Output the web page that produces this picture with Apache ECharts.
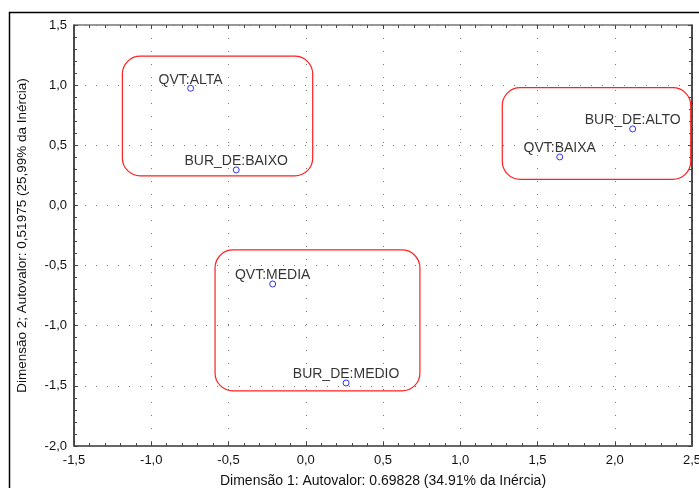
<!DOCTYPE html>
<html>
<head>
<meta charset="utf-8">
<script src="https://cdn.jsdelivr.net/npm/echarts@6/dist/echarts.min.js"></script>
<style>
  html, body { margin: 0; padding: 0; background: #fff; }
  #graph { width: 699px; height: 488px; }
</style>
</head>
<body>
<div id="graph"></div>
<script>
// pontos (categorias e coordenadas)
var pointNames = ['QVT:ALTA', 'BUR_DE:BAIXO', 'BUR_DE:ALTO', 'QVT:BAIXA', 'QVT:MEDIA', 'BUR_DE:MEDIO'];
var dim1 = [-0.745, -0.45, 2.116, 1.644, -0.214, 0.261];
var dim2 = [0.974, 0.295, 0.636, 0.403, -0.653, -1.476];

// grupos marcados (x1, y1, x2, y2)
var groupBoxes = [
    [-1.187, 1.242, 0.045, 0.245],
    [1.272, 0.979, 2.492, 0.217],
    [-0.587, -0.370, 0.739, -1.542]
];

var xTitle = 'Dimensão 1: Autovalor: 0.69828 (34.91% da Inércia)';
var yTitle = 'Dimensão 2; Autovalor: 0,51975 (25,99% da Inércia)';

var FONT = 'Liberation Sans, Arial, sans-serif';

function fmt(v) {
    return v.toFixed(1).replace('.', ',');
}

var scatterData = [];
for (var i = 0; i < pointNames.length; i++) {
    scatterData.push({ name: pointNames[i], value: [dim1[i], dim2[i]] });
}

function renderBox(params, api) {
    var p1 = api.coord([api.value(0), api.value(1)]);
    var p2 = api.coord([api.value(2), api.value(3)]);
    return {
        type: 'rect',
        shape: {
            x: Math.min(p1[0], p2[0]),
            y: Math.min(p1[1], p2[1]),
            width: Math.abs(p2[0] - p1[0]),
            height: Math.abs(p2[1] - p1[1]),
            r: 18
        },
        style: { fill: 'none', stroke: '#ff2020', lineWidth: 1.2 }
    };
}

var sideAxis = {
    axisLabel: { show: false },
    axisTick: { show: true, inside: true, length: 4, lineStyle: { color: '#444' } },
    minorTick: { show: true, splitNumber: 5, length: 3, lineStyle: { color: '#444' } },
    splitLine: { show: false }
};

var option = {
    animation: false,
    backgroundColor: '#fff',
    graphic: [{
        type: 'rect',
        shape: { x: 9.5, y: 12.5, width: 720, height: 520 },
        style: { fill: 'none', stroke: '#000', lineWidth: 1.5 },
        silent: true,
        z: 100
    }],
    grid: { left: 74, right: 7, top: 25, bottom: 42, outerBoundsMode: 'none', containLabel: false },
    xAxis: [{
        type: 'value',
        min: -1.5, max: 2.5, interval: 0.5,
        name: xTitle,
        nameLocation: 'middle',
        nameGap: 28,
        nameTextStyle: { fontFamily: FONT, fontSize: 14, color: '#111' },
        axisLine: { show: true, onZero: false, lineStyle: { color: '#666', width: 2 } },
        axisTick: { show: true, inside: true, length: 4, lineStyle: { color: '#444' } },
        minorTick: { show: true, splitNumber: 5, length: 3, lineStyle: { color: '#444' } },
        axisLabel: { formatter: fmt, fontFamily: FONT, fontSize: 13, color: '#111', margin: 8 },
        splitLine: { show: true, lineStyle: { color: '#777', type: [1, 12], width: 1 } }
    }, Object.assign({
        type: 'value', position: 'top',
        min: -1.5, max: 2.5, interval: 0.5,
        axisLine: { show: true, onZero: false, lineStyle: { color: '#777', width: 1.5 } }
    }, sideAxis)],
    yAxis: [{
        type: 'value',
        min: -2, max: 1.5, interval: 0.5,
        name: yTitle,
        nameLocation: 'middle',
        nameGap: 45,
        nameRotate: 90,
        nameTextStyle: { fontFamily: FONT, fontSize: 13.5, color: '#111' },
        axisLine: { show: true, onZero: false, lineStyle: { color: '#111', width: 1.5 } },
        axisTick: { show: true, inside: true, length: 4, lineStyle: { color: '#444' } },
        minorTick: { show: true, splitNumber: 5, length: 3, lineStyle: { color: '#444' } },
        axisLabel: { formatter: fmt, fontFamily: FONT, fontSize: 13, color: '#111', margin: 7 },
        splitLine: { show: true, lineStyle: { color: '#777', type: [1, 10], width: 1 } }
    }, Object.assign({
        type: 'value', position: 'right',
        min: -2, max: 1.5, interval: 0.5,
        axisLine: { show: true, onZero: false, lineStyle: { color: '#111', width: 1.5 } }
    }, sideAxis)],
    series: [{
        type: 'custom',
        renderItem: renderBox,
        encode: { x: [0, 2], y: [1, 3] },
        data: groupBoxes,
        z: 1,
        silent: true
    }, {
        type: 'scatter',
        symbol: 'circle',
        symbolSize: 6,
        itemStyle: { color: '#fff', borderColor: '#0000ff', borderWidth: 1 },
        label: {
            show: true,
            position: 'top',
            distance: -2,
            formatter: '{b}',
            fontFamily: FONT,
            fontSize: 14,
            color: '#000'
        },
        data: scatterData,
        z: 3
    }]
};

var chart = echarts.init(document.getElementById('graph'));
chart.setOption(option);
</script>
</body>
</html>
